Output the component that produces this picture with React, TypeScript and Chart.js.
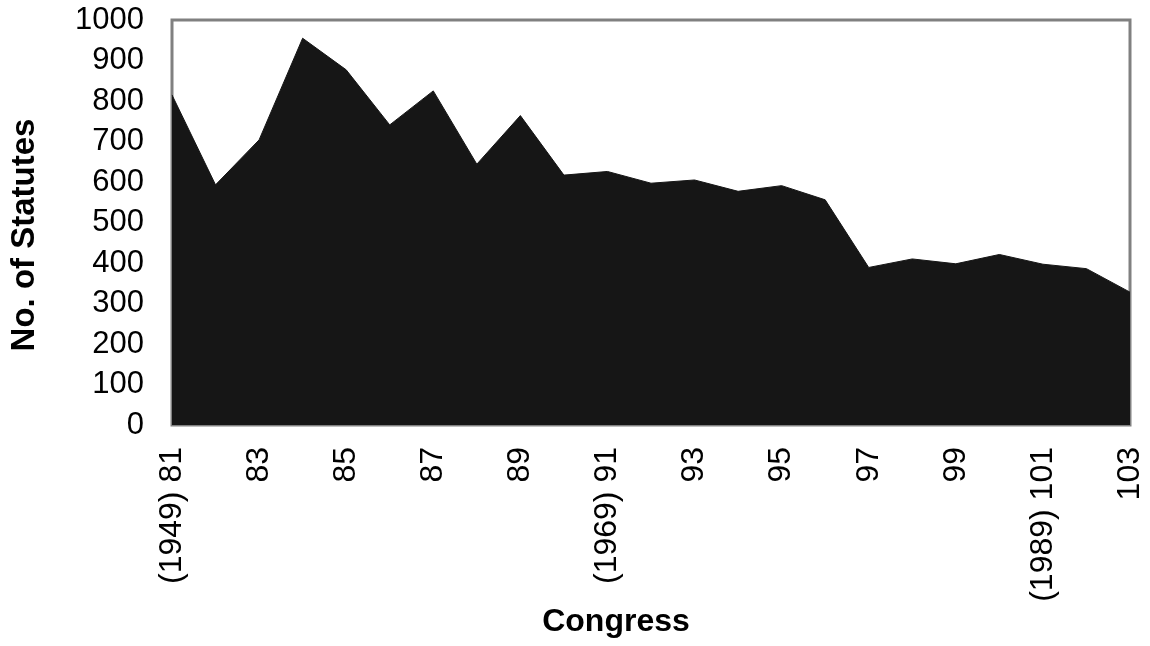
import React, { useEffect, useRef } from "react";
import { Chart, registerables } from "chart.js";

Chart.register(...registerables);

const congresses: number[] = [81, 82, 83, 84, 85, 86, 87, 88, 89, 90, 91, 92, 93, 94, 95, 96, 97, 98, 99, 100, 101, 102, 103];
const statutes: number[] = [815, 593, 704, 955, 877, 741, 825, 644, 764, 617, 626, 597, 605, 577, 591, 556, 389, 410, 398, 421, 397, 386, 328];
const xTickLabels: string[] = ["(1949) 81", "", "83", "", "85", "", "87", "", "89", "", "(1969) 91", "", "93", "", "95", "", "97", "", "99", "", "(1989) 101", "", "103"];
const yMin = 0;
const yMax = 1000;
const yStep = 100;
const xTitle = "Congress";
const yTitle = "No. of Statutes";

const FONT = "'Liberation Sans', Arial, Helvetica, sans-serif";

const framePlugin = {
  id: "frame",
  beforeDatasetsDraw(chart: any) {
    const { ctx, chartArea } = chart;
    ctx.save();
    ctx.strokeStyle = "#808080";
    ctx.lineWidth = 3;
    ctx.strokeRect(chartArea.left, chartArea.top, chartArea.right - chartArea.left, chartArea.bottom - chartArea.top);
    ctx.restore();
  },
  afterDraw(chart: any) {
    const { ctx } = chart;
    ctx.save();
    ctx.fillStyle = "#000";
    ctx.textAlign = "center";
    ctx.textBaseline = "middle";
    ctx.font = `bold 32px ${FONT}`;
    ctx.fillText(xTitle, 616, 622);
    ctx.translate(25, 235);
    ctx.rotate(-Math.PI / 2);
    ctx.font = `bold 33px ${FONT}`;
    ctx.fillText(yTitle, 0, 0);
    ctx.restore();
  },
};

export default function App() {
  const ref = useRef<HTMLCanvasElement | null>(null);
  useEffect(() => {
    if (!ref.current) return;
    const chart = new Chart(ref.current, {
      type: "line",
      data: {
        labels: congresses.map(String),
        datasets: [
          {
            data: statutes,
            fill: "origin",
            backgroundColor: "#161616",
            borderColor: "#161616",
            borderWidth: 1,
            pointRadius: 0,
            tension: 0,
          },
        ],
      },
      plugins: [framePlugin],
      options: {
        animation: false,
        responsive: true,
        maintainAspectRatio: false,
        layout: { padding: { top: 20, right: 20, left: 0, bottom: 0 } },
        plugins: { legend: { display: false }, tooltip: { enabled: false } },
        scales: {
          x: {
            offset: false,
            grid: { display: false, drawTicks: false },
            border: { display: false },
            afterFit: (s: any) => {
              s.height = 221;
              s.paddingLeft = 0;
              s.paddingRight = 0;
            },
            ticks: {
              autoSkip: false,
              minRotation: 90,
              maxRotation: 90,
              padding: 22,
              color: "#000",
              font: { family: FONT, size: 32 },
              callback: (_v: any, i: number) => xTickLabels[i],
            },
          },
          y: {
            min: yMin,
            max: yMax,
            grid: { display: false, drawTicks: false },
            border: { display: false },
            afterFit: (s: any) => {
              s.width = 172;
              s.paddingTop = 0;
              s.paddingBottom = 0;
            },
            ticks: {
              stepSize: yStep,
              autoSkip: false,
              padding: 28,
              color: "#000",
              font: { family: FONT, size: 31 },
              callback: (v: any) => String(v),
            },
          },
        },
      },
    });
    return () => chart.destroy();
  }, []);
  return (
    <div style={{ position: "fixed", left: 0, top: 0, width: 1150, height: 646, background: "#fff" }}>
      <canvas ref={ref} />
    </div>
  );
}
